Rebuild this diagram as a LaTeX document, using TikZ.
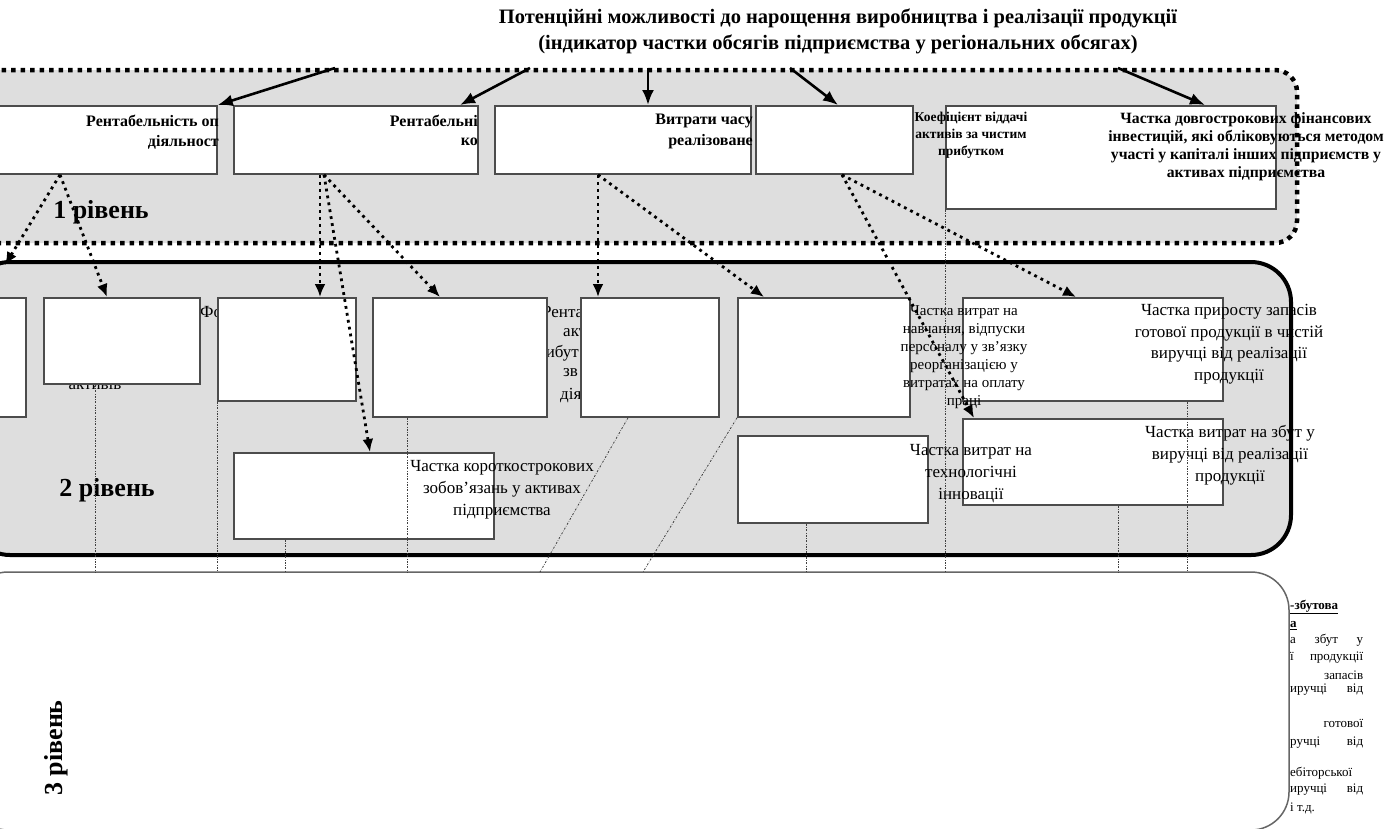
\documentclass[tikz,border=0pt]{standalone}
\usepackage{fontspec}
\setmainfont{Liberation Serif}
\usetikzlibrary{arrows.meta}

\begin{document}
\begin{tikzpicture}[x=1pt,y=-1pt]
\definecolor{bandgray}{gray}{0.87}
\definecolor{edgegray}{gray}{0.3}
\tikzstyle{box} = [draw=edgegray, fill=white, line width=1.8pt, anchor=north west, inner sep=0]
\tikzstyle{titletxt} = [inner sep=0, align=center, font=\bfseries\fontsize{20.5}{26}\selectfont]
\tikzstyle{lvltxt} = [inner sep=0, font=\bfseries\fontsize{26}{30}\selectfont]
\tikzstyle{onetxt} = [inner sep=0, align=center, font=\bfseries\fontsize{16}{21}\selectfont]
\tikzstyle{twotxt} = [inner sep=0, align=center, font=\fontsize{17}{22}\selectfont]
\tikzstyle{threetxt} = [inner sep=0, anchor=west, font=\fontsize{13}{17}\selectfont]
\tikzstyle{toparrow} = [-{Latex[length=15pt,width=12pt]}, line width=2.6pt]
\tikzstyle{dotarrow} = [-{Latex[length=13pt,width=11pt]}, line width=2.8pt, dash pattern=on 2.8pt off 4.2pt]
\tikzstyle{thinline} = [black!75, line width=0.8pt, dash pattern=on 2pt off 1.5pt on 0.5pt off 1.5pt]

\useasboundingbox (0,0) rectangle (1399,828);
\clip (0,0) rectangle (1399,828);

% title
\node[titletxt] (title) at (838,31) {Потенційні можливості до нарощення виробництва і реалізації продукції\\(індикатор частки обсягів підприємства у регіональних обсягах)};

% bands
\filldraw[fill=bandgray, draw=black, line width=4.5pt, dash pattern=on 4.5pt off 5pt, rounded corners=22] (-30,70) -- (1297,70) -- (1297,243) -- (-30,243) -- cycle;
\filldraw[fill=bandgray, draw=black, line width=4pt, rounded corners=40] (-30,262) -- (1291,262) -- (1291,555) -- (-30,555) -- cycle;

% level 3 text, right side
\node[threetxt, font=\bfseries\fontsize{13}{17}\selectfont] (z1) at (1290,607) {\underline{-збутова}};
\node[threetxt, font=\bfseries\fontsize{13}{17}\selectfont] (z2) at (1290,626) {\underline{а}};
\node[threetxt] (z3) at (1290,640) {\makebox[73pt][s]{а збут у}};
\node[threetxt] (z4) at (1290,658) {\makebox[73pt][s]{ї продукції}};
\node[threetxt] (z5) at (1290,675) {\makebox[73pt][r]{запасів}};
\node[threetxt] (z6) at (1290,690) {\makebox[73pt][s]{иручці від}};
\node[threetxt] (z7) at (1290,723) {\makebox[73pt][r]{готової}};
\node[threetxt] (z8) at (1290,743) {\makebox[73pt][s]{ручці від}};
\node[threetxt] (z9) at (1290,773) {\makebox[73pt][s]{ебіторської}};
\node[threetxt] (z10) at (1290,790) {\makebox[73pt][s]{иручці від}};
\node[threetxt] (z11) at (1290,808) {і т.д.};
\filldraw[fill=white, draw=black!60, line width=1.5pt, rounded corners=38] (-30,572) -- (1289,572) -- (1289,830) -- (-30,830) -- cycle;
\coordinate (l3top) at (0,572);

% texts under the boxes
\node[twotxt, anchor=base] (aktyv) at (95,389) {активів};
\node[twotxt, anchor=west] (fo) at (200,312) {Фо};
\node[twotxt, anchor=west] (rent1) at (542,312) {Рента};
\node[twotxt, anchor=west] (rent2) at (563,333) {акт};
\node[twotxt, anchor=west] (rent3) at (528,353) {прибут};
\node[twotxt, anchor=west] (rent4) at (563,373) {зв};
\node[twotxt, anchor=west] (rent5) at (560,396) {дія};

% level 1 boxes
\node[box, minimum width=221pt, minimum height=68pt] (b1) at (-5,105) {};
\node[box, minimum width=244pt, minimum height=68pt] (b2) at (233,105) {};
\node[box, minimum width=256pt, minimum height=68pt] (b3) at (494,105) {};
\node[box, minimum width=157pt, minimum height=68pt] (b4) at (755,105) {};
\node[box, minimum width=330pt, minimum height=103pt] (b5) at (945,105) {};

% level 2 boxes
\node[box, minimum width=35pt, minimum height=119pt] (c0) at (-10,297) {};
\node[box, minimum width=156pt, minimum height=86pt] (c1) at (43,297) {};
\node[box, minimum width=138pt, minimum height=103pt] (c2) at (217,297) {};
\node[box, minimum width=174pt, minimum height=119pt] (c3) at (372,297) {};
\node[box, minimum width=138pt, minimum height=119pt] (c4) at (580,297) {};
\node[box, minimum width=172pt, minimum height=119pt] (c5) at (737,297) {};
\node[box, minimum width=260pt, minimum height=103pt] (c6) at (962,297) {};
\node[box, minimum width=260pt, minimum height=86pt] (c7) at (962,418) {};
\node[box, minimum width=190pt, minimum height=87pt] (c8) at (737,435) {};
\node[box, minimum width=260pt, minimum height=86pt] (c9) at (233,452) {};

% level labels
\node[lvltxt] (lvl1) at (101,212) {1 рівень};
\node[lvltxt] (lvl2) at (107,490) {2 рівень};
\node[lvltxt, rotate=90] (lvl3) at (56,748) {3 рівень};

% level 1 texts
\node[onetxt, anchor=east] (r1a) at (219,121) {Рентабельність оп};
\node[onetxt, anchor=east] (r1b) at (219,142) {діяльност};
\node[onetxt, anchor=east] (r2a) at (478,121) {Рентабельні};
\node[onetxt, anchor=east] (r2b) at (478,142) {ко};
\node[onetxt, anchor=east] (r3a) at (753,121) {Витрати часу};
\node[onetxt, anchor=east] (r3b) at (753,142) {реалізоване};
\node[onetxt, font=\bfseries\fontsize{13.5}{17}\selectfont] (koef) at (971,135) {Коефіцієнт віддачі\\активів за чистим\\прибутком};
\node[onetxt, font=\bfseries\fontsize{15.7}{18}\selectfont] (dovg) at (1246,147) {Частка довгострокових фінансових\\інвестицій, які обліковуються методом\\участі у капіталі інших підприємств у\\активах підприємства};

% level 2 texts
\node[twotxt] (korot) at (502,490) {Частка короткострокових\\зобов’язань у активах\\підприємства};
\node[twotxt, font=\fontsize{15}{18}\selectfont] (navch) at (964,357) {Частка витрат на\\навчання, відпуски\\персоналу у зв’язку\\реорганізацією у\\витратах на оплату\\праці};
\node[twotxt, font=\fontsize{17}{21.5}\selectfont] (pryr) at (1229,344) {Частка приросту запасів\\готової продукції в чистій\\виручці від реалізації\\продукції};
\node[twotxt] (zbut) at (1230,455) {Частка витрат на збут у\\виручці від реалізації\\продукції};
\node[twotxt] (tech) at (971,474) {Частка витрат на\\технологічні\\інновації};

% arrows from the title
\coordinate (a1) at (335,68);
\coordinate (a2) at (530,68);
\coordinate (a3) at (648,68);
\coordinate (a4) at (790,68);
\coordinate (a5) at (1118,68);
\draw[toparrow] (a1) -- (b1.north east);
\draw[toparrow] (a2) -- ([xshift=227pt]b2.north west);
\draw[toparrow] (a3) -- ([xshift=154pt]b3.north west);
\draw[toparrow] (a4) -- ([xshift=83pt]b4.north west);
\draw[toparrow] (a5) -- ([xshift=260pt]b5.north west);

% dotted arrows level 1 -> level 2
\coordinate (s1) at ([xshift=65pt]b1.south west);
\coordinate (s2) at ([xshift=87pt]b2.south west);
\coordinate (s2b) at ([xshift=91pt]b2.south west);
\coordinate (s3) at ([xshift=104pt]b3.south west);
\coordinate (s4) at ([xshift=87pt]b4.south west);
\coordinate (e0) at (5,265);
\draw[dotarrow] (s1) -- (e0);
\draw[dotarrow] (s1) -- ([xshift=64pt]c1.north west);
\draw[dotarrow] (s2) -- ([xshift=103pt]c2.north west);
\draw[dotarrow] (s2b) -- ([xshift=137pt]c9.north west);
\draw[dotarrow] (s2b) -- ([xshift=68pt]c3.north west);
\draw[dotarrow] (s3) -- ([xshift=18pt]c4.north west);
\draw[dotarrow] (s3) -- ([xshift=27pt]c5.north west);
\draw[dotarrow] (s4) -- ([xshift=12pt]c7.north west);
\draw[dotarrow] (s4) -- ([xshift=114pt]c6.north west);

% thin lines down to level 3
\draw[thinline] ([xshift=52pt]c1.south west) coordinate (v1) -- (v1 |- l3top);
\draw[thinline] (c2.south west) coordinate (v2) -- (v2 |- l3top);
\draw[thinline] ([xshift=52pt]c9.south west) coordinate (v3) -- (v3 |- l3top);
\draw[thinline] ([xshift=35pt]c3.south west) coordinate (v4) -- (v4 |- l3top);
\draw[thinline] ([xshift=69pt]c8.south west) coordinate (v5) -- (v5 |- l3top);
\draw[thinline] (b5.south west) coordinate (v6) -- (v6 |- l3top);
\draw[thinline] ([xshift=156pt]c7.south west) coordinate (v7) -- (v7 |- l3top);
\draw[thinline] ([xshift=225pt]c6.south west) coordinate (v8) -- (v8 |- l3top);
\coordinate (d1) at (540,572);
\coordinate (d2) at (643,572);
\draw[thinline] ([xshift=48pt]c4.south west) -- (d1);
\draw[thinline] (c5.south west) -- (d2);

\end{tikzpicture}
\end{document}
